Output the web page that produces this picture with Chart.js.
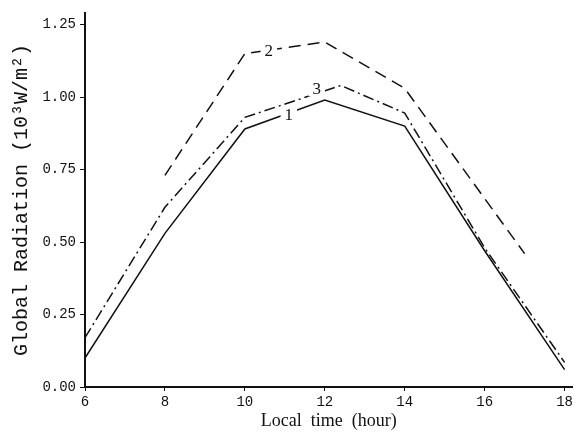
<!DOCTYPE html>
<html>
<head>
<meta charset="utf-8">
<script src="https://cdn.jsdelivr.net/npm/chart.js@4"></script>
<style>
  html, body { margin: 0; padding: 0; background: #fff; }
  #wrap { width: 576px; height: 437px; }
</style>
</head>
<body>
<div id="wrap"><canvas id="chart" width="576" height="437"></canvas></div>
<script>
// curve 1 (solid)
const hours1 = [6, 8, 10, 12, 14, 16, 18];
const radiation1 = [0.10, 0.53, 0.89, 0.99, 0.90, 0.47, 0.06];
// curve 2 (dashed)
const hours2 = [8, 10, 12, 14, 17];
const radiation2 = [0.73, 1.15, 1.19, 1.03, 0.46];
// curve 3 (dash-dot)
const hours3 = [6, 8, 10, 12.4, 14, 16, 18];
const radiation3 = [0.17, 0.62, 0.93, 1.04, 0.945, 0.48, 0.085];

const xTicks = [6, 8, 10, 12, 14, 16, 18];
const yTicks = [0, 0.25, 0.5, 0.75, 1.0, 1.25];

// inline curve labels, placed in data units
const curveLabels = ['1', '2', '3'];
const labelHours = [11.1, 10.6, 11.8];
const labelValues = [0.94, 1.162, 1.03];

const ink = '#111';

function toPoints(xs, ys) {
  return xs.map((x, i) => ({ x, y: ys[i] }));
}

const curveLabelPlugin = {
  id: 'curveLabels',
  afterDatasetsDraw(chart) {
    const { ctx, scales } = chart;
    ctx.save();
    ctx.font = '17px "Liberation Serif"';
    ctx.textAlign = 'center';
    ctx.textBaseline = 'middle';
    curveLabels.forEach((text, i) => {
      const px = scales.x.getPixelForValue(labelHours[i]);
      const py = scales.y.getPixelForValue(labelValues[i]);
      const w = ctx.measureText(text).width + 8;
      ctx.fillStyle = '#fff';
      ctx.fillRect(px - w / 2, py - 8, w, 16);
      ctx.fillStyle = ink;
      ctx.fillText(text, px, py + 1);
    });
    ctx.restore();
  }
};

new Chart(document.getElementById('chart'), {
  type: 'line',
  data: {
    datasets: [
      {
        label: '1',
        data: toPoints(hours1, radiation1),
        borderColor: ink,
        borderWidth: 1.5,
        pointRadius: 0,
        tension: 0
      },
      {
        label: '2',
        data: toPoints(hours2, radiation2),
        borderColor: ink,
        borderWidth: 1.5,
        borderDash: [12, 7],
        pointRadius: 0,
        tension: 0
      },
      {
        label: '3',
        data: toPoints(hours3, radiation3),
        borderColor: ink,
        borderWidth: 1.5,
        borderDash: [11, 4, 2, 4],
        pointRadius: 0,
        tension: 0
      }
    ]
  },
  options: {
    responsive: false,
    animation: false,
    parsing: false,
    layout: { padding: { left: 0, right: 1, top: 13, bottom: 0 } },
    plugins: {
      legend: { display: false },
      tooltip: { enabled: false }
    },
    scales: {
      x: {
        type: 'linear',
        min: 6,
        max: 18.2,
        afterBuildTicks: (axis) => { axis.ticks = xTicks.map((value) => ({ value })); },
        afterFit: (axis) => { axis.height = 50; },
        border: { color: ink, width: 2 },
        grid: { drawOnChartArea: false, color: ink, tickLength: 4 },
        ticks: {
          color: ink,
          padding: 3,
          maxRotation: 0,
          font: { family: 'Liberation Mono', size: 14 }
        },
        title: {
          display: true,
          text: 'Local  time  (hour)',
          color: ink,
          padding: { top: 0, bottom: 5 },
          font: { family: 'Liberation Serif', size: 18 }
        }
      },
      y: {
        type: 'linear',
        min: 0,
        max: 1.29,
        afterBuildTicks: (axis) => { axis.ticks = yTicks.map((value) => ({ value })); },
        afterFit: (axis) => { axis.width = 85; },
        border: { color: ink, width: 2 },
        grid: { drawOnChartArea: false, color: ink, tickLength: 5 },
        ticks: {
          color: ink,
          padding: 4,
          callback: (value) => value.toFixed(2),
          font: { family: 'Liberation Mono', size: 14 }
        },
        title: {
          display: true,
          text: 'Global Radiation (10³W/m²)',
          color: ink,
          padding: { top: 10, bottom: 2 },
          font: { family: 'Liberation Mono', size: 20 }
        }
      }
    }
  },
  plugins: [curveLabelPlugin]
});
</script>
</body>
</html>
